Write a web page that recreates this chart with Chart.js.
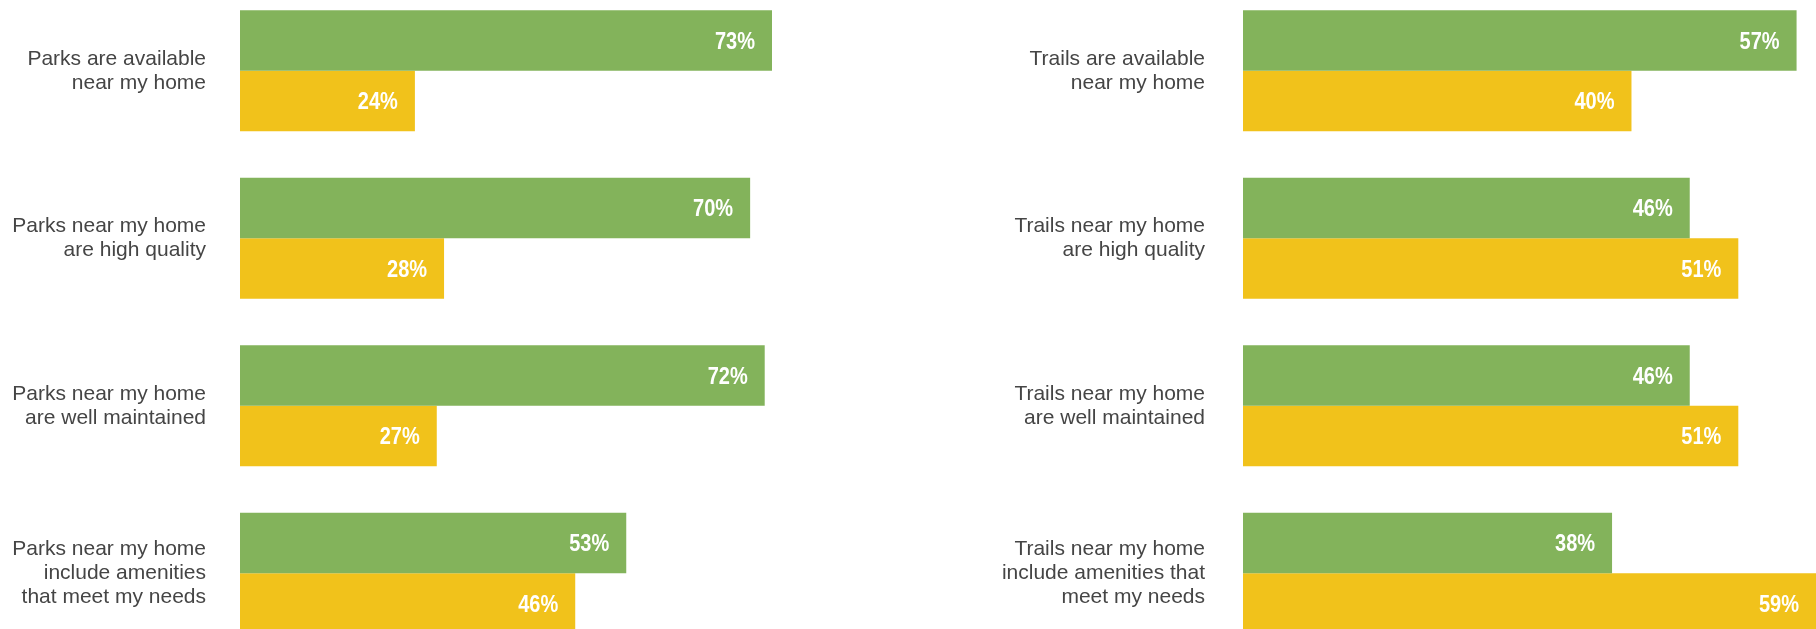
<!DOCTYPE html>
<html>
<head>
<meta charset="utf-8">
<script src="https://cdn.jsdelivr.net/npm/chart.js@4"></script>
<style>
  html, body { margin: 0; padding: 0; background: #fff; overflow: hidden; }
  body { width: 1816px; height: 629px; position: relative; }
  .panel { position: absolute; top: -13px; height: 670px; }
  #parksBox { left: 0; width: 772px; }
  #trailsBox { left: 908px; width: 908px; }
</style>
</head>
<body>
<div class="panel" id="parksBox"><canvas id="parksChart"></canvas></div>
<div class="panel" id="trailsBox"><canvas id="trailsChart"></canvas></div>
<script>
const parksLabels = [
  ['Parks are available', 'near my home'],
  ['Parks near my home', 'are high quality'],
  ['Parks near my home', 'are well maintained'],
  ['Parks near my home', 'include amenities', 'that meet my needs']
];
const parksGreen = [73, 70, 72, 53];
const parksYellow = [24, 28, 27, 46];

const trailsLabels = [
  ['Trails are available', 'near my home'],
  ['Trails near my home', 'are high quality'],
  ['Trails near my home', 'are well maintained'],
  ['Trails near my home', 'include amenities that', 'meet my needs']
];
const trailsGreen = [57, 46, 46, 38];
const trailsYellow = [40, 51, 51, 59];

const GREEN = '#83b35b';
const YELLOW = '#f1c21b';
const FAMILY = "'Liberation Sans', Arial, sans-serif";

// white percentage text at the end of each bar (squeezed to look condensed)
const valueLabels = {
  id: 'valueLabels',
  afterDatasetsDraw(chart) {
    const ctx = chart.ctx;
    chart.data.datasets.forEach((ds, i) => {
      chart.getDatasetMeta(i).data.forEach((bar, j) => {
        ctx.save();
        ctx.font = 'bold 23px ' + FAMILY;
        ctx.fillStyle = '#ffffff';
        ctx.textAlign = 'right';
        ctx.textBaseline = 'middle';
        ctx.translate(bar.x - 17, bar.y + 2);
        ctx.scale(0.87, 1);
        ctx.fillText(ds.data[j] + '%', 0, 0);
        ctx.restore();
      });
    });
  }
};

function makeChart(id, labels, green, yellow, max, axisWidth, pad) {
  return new Chart(document.getElementById(id), {
    type: 'bar',
    data: {
      labels: labels,
      datasets: [
        { data: green, backgroundColor: GREEN },
        { data: yellow, backgroundColor: YELLOW }
      ]
    },
    options: {
      indexAxis: 'y',
      responsive: true,
      maintainAspectRatio: false,
      animation: false,
      layout: { padding: 0 },
      datasets: {
        bar: { barPercentage: 1, categoryPercentage: 0.7227, borderWidth: 0 }
      },
      plugins: { legend: { display: false }, tooltip: { enabled: false } },
      scales: {
        x: { display: false, min: 0, max: max },
        y: {
          grid: { display: false, drawTicks: false },
          border: { display: false },
          ticks: {
            padding: pad,
            color: '#454545',
            font: { family: FAMILY, size: 21, lineHeight: '24px' }
          },
          afterFit(scale) {
            scale.width = axisWidth;
            scale.paddingTop = 0;
            scale.paddingBottom = 0;
          }
        }
      }
    },
    plugins: [valueLabels]
  });
}

makeChart('parksChart', parksLabels, parksGreen, parksYellow, 73, 240, 34);
makeChart('trailsChart', trailsLabels, trailsGreen, trailsYellow, 59, 335, 38);
</script>
</body>
</html>
